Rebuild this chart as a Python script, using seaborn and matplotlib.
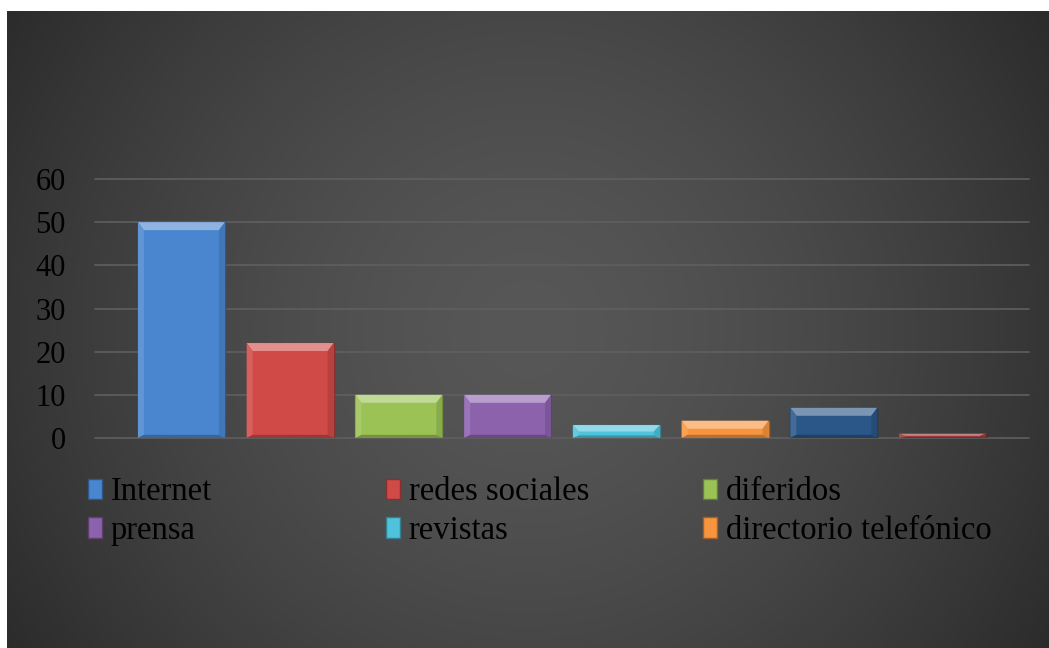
import numpy as np
import matplotlib
matplotlib.use("Agg")
import matplotlib.pyplot as plt
from matplotlib.patches import Polygon, Patch
from matplotlib.colors import to_rgb
import seaborn as sns
import pandas as pd

# data
categories = ["Internet", "redes sociales", "diferidos", "prensa", "revistas",
              "directorio telefónico", "otros medios", "sin respuesta"]
values = [50, 22, 10, 10, 3, 4, 7, 1]
colors = ["#4a86d0", "#d04a48", "#9bc255", "#8c62ad", "#4fc3dc",
          "#f7953f", "#2a5688", "#9c3a38"]
yticks = [0, 10, 20, 30, 40, 50, 60]
legend_columns = [[0, 3], [1, 4], [2, 5]]

W, H, DPI = 1049, 648, 100
sns.set_theme(style="dark")
plt.rcParams["font.family"] = ["Liberation Serif", "DejaVu Serif"]


def mix(c, other, t):
    c = np.array(to_rgb(c))
    return tuple(c * (1 - t) + np.array(other) * t)


fig = plt.figure(figsize=(W / DPI, H / DPI), dpi=DPI, facecolor="white")

# dark panel with soft radial shading
bg = fig.add_axes([7 / W, 0, (W - 7) / W, (H - 11) / H], zorder=0)
ny, nx = 300, 500
yy, xx = np.mgrid[0:1:ny * 1j, 0:1:nx * 1j]
r = np.sqrt(((xx - 0.5) / 0.62) ** 2 + ((yy - 0.5) / 1.0) ** 2)
shade = 0x57 / 255 - (0x57 - 0x28) / 255 * np.clip(r, 0, 1) ** 1.5
bg.imshow(np.dstack([shade] * 3), aspect="auto", extent=[0, 1, 0, 1],
          interpolation="bilinear")
bg.set_axis_off()

# plot area
ax_w, ax_h = 934, 259
ax = fig.add_axes([95 / W, 1 - 438 / H, ax_w / W, ax_h / H], zorder=1)
ax.patch.set_alpha(0)

df = pd.DataFrame({"medio": categories, "valor": values})
sns.barplot(data=df, x="medio", y="valor", hue="medio", palette=colors,
            width=0.8, saturation=1, legend=False, ax=ax, zorder=3)

pad = 0.295
ax.set_xlim(-0.5 - pad, len(categories) - 0.5 + pad)
ax.set_ylim(yticks[0], yticks[-1])
ax.set_yticks(yticks)
ax.set_xticks([])
ax.set_xlabel("")
ax.set_ylabel("")
for s in ax.spines.values():
    s.set_visible(False)
ax.yaxis.grid(True, color="#5f5f5f", linewidth=1.2)
ax.xaxis.grid(False)
for gl in ax.get_ygridlines():
    gl.set_clip_on(False)
ax.tick_params(axis="y", length=0, pad=21, labelsize=22, labelcolor="black")

# bevelled bar faces
xr = ax.get_xlim()[1] - ax.get_xlim()[0]
yr = ax.get_ylim()[1] - ax.get_ylim()[0]
px_x = xr / ax_w
px_y = yr / ax_h
for bar, col in zip(ax.patches, colors):
    bar.set_edgecolor(mix(col, (0, 0, 0), 0.35))
    bar.set_linewidth(1.0)
    x0, y0 = bar.get_x(), bar.get_y()
    w, h = bar.get_width(), bar.get_height()
    x1, y1 = x0 + w, y0 + h
    bt = min(8 * px_y, h / 2)
    bs = 6 * px_x
    top = Polygon([(x0, y1), (x1, y1), (x1 - bs, y1 - bt), (x0 + bs, y1 - bt)],
                  closed=True, facecolor=mix(col, (1, 1, 1), 0.38),
                  edgecolor="none", zorder=4)
    left = Polygon([(x0, y0), (x0, y1), (x0 + bs, y1 - bt), (x0 + bs, y0 + bt * 0.4)],
                   closed=True, facecolor=mix(col, (1, 1, 1), 0.12),
                   edgecolor="none", zorder=4)
    right = Polygon([(x1, y0), (x1, y1), (x1 - bs, y1 - bt), (x1 - bs, y0 + bt * 0.4)],
                    closed=True, facecolor=mix(col, (0, 0, 0), 0.12),
                    edgecolor="none", zorder=4)
    bottom = Polygon([(x0, y0), (x1, y0), (x1 - bs, y0 + bt * 0.4), (x0 + bs, y0 + bt * 0.4)],
                     closed=True, facecolor=mix(col, (0, 0, 0), 0.25),
                     edgecolor="none", zorder=4)
    for p in (top, left, right, bottom):
        ax.add_patch(p)

# legend laid out in three columns
col_x = [88, 386, 703]
for cx, idxs in zip(col_x, legend_columns):
    handles = [Patch(facecolor=colors[i], edgecolor=mix(colors[i], (0, 0, 0), 0.35),
                     label=categories[i]) for i in idxs]
    fig.legend(handles=handles, loc="upper left",
               bbox_to_anchor=(cx / W, 1 - 477 / H), frameon=False,
               fontsize=23.5, handlelength=0.42, handleheight=0.6,
               handletextpad=0.28, labelspacing=0.25, borderpad=0,
               borderaxespad=0, labelcolor="black")

fig.savefig("out.png", dpi=DPI, facecolor="white")
